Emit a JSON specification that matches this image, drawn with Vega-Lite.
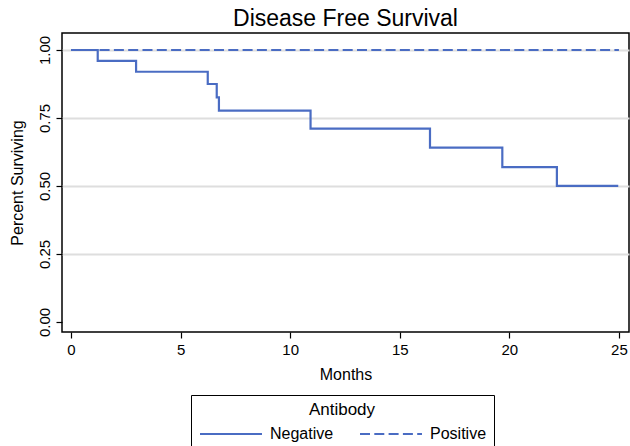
{
  "$schema": "https://vega.github.io/schema/vega-lite/v6.json",
  "autosize": "none",
  "width": 567,
  "height": 299,
  "padding": {"left": 62, "top": 33, "right": 1, "bottom": 114},
  "background": "white",
  "config": {
    "font": "Liberation Sans",
    "view": {"stroke": "#000", "strokeWidth": 1.5}
  },
  "title": {"text": "Disease Free Survival", "fontSize": 23, "fontWeight": "normal", "anchor": "middle", "offset": 2, "color": "#000"},
  "data": {"values": [
    {"antibody": "Negative", "months": 0, "surv": 1},
    {"antibody": "Negative", "months": 1.22, "surv": 0.96},
    {"antibody": "Negative", "months": 2.97, "surv": 0.92},
    {"antibody": "Negative", "months": 6.24, "surv": 0.875},
    {"antibody": "Negative", "months": 6.65, "surv": 0.826},
    {"antibody": "Negative", "months": 6.75, "surv": 0.777},
    {"antibody": "Negative", "months": 10.93, "surv": 0.711},
    {"antibody": "Negative", "months": 16.38, "surv": 0.641},
    {"antibody": "Negative", "months": 19.68, "surv": 0.569},
    {"antibody": "Negative", "months": 22.17, "surv": 0.5},
    {"antibody": "Negative", "months": 24.97, "surv": 0.5},
    {"antibody": "Positive", "months": 0, "surv": 1},
    {"antibody": "Positive", "months": 25, "surv": 1}
  ]},
  "mark": {"type": "line", "interpolate": "step-after", "strokeWidth": 2.2},
  "encoding": {
    "x": {"field": "months", "type": "quantitative",
      "scale": {"domain": [-0.41, 25.46], "nice": false, "zero": false},
      "axis": {"values": [0, 5, 10, 15, 20, 25], "title": "Months", "grid": false, "domain": false,
        "labelFontSize": 15, "titleFontSize": 16, "titleFontWeight": "normal", "labelColor": "#000", "titleColor": "#000",
        "tickColor": "#000", "tickSize": 6, "tickWidth": 1.2, "labelPadding": 4, "titlePadding": 9, "labelFlush": false}},
    "y": {"field": "surv", "type": "quantitative",
      "scale": {"domain": [-0.037, 1.0625], "nice": false, "zero": false},
      "axis": {"values": [0, 0.25, 0.5, 0.75, 1], "format": ".2f", "title": "Percent Surviving", "domain": false,
        "grid": true, "gridColor": {"condition": {"test": "datum.value === 0", "value": "transparent"}, "value": "#dedede"}, "gridWidth": 2,
        "labelAngle": -90, "labelAlign": "center", "labelBaseline": "bottom",
        "labelFontSize": 15, "titleFontSize": 16, "titleFontWeight": "normal", "labelColor": "#000", "titleColor": "#000",
        "tickColor": "#000", "tickSize": 6, "tickWidth": 1.2, "labelPadding": 4, "titlePadding": 12, "labelFlush": false}},
    "color": {"field": "antibody", "type": "nominal",
      "scale": {"domain": ["Negative", "Positive"], "range": ["#4a6cc3", "#4a6cc3"]},
      "legend": {"title": "Antibody", "orient": "none", "legendX": 129, "legendY": 362, "direction": "horizontal",
        "titleAnchor": "middle", "titleFontSize": 17, "titleFontWeight": "normal", "titleColor": "#000", "titlePadding": 7,
        "labelFontSize": 16, "labelColor": "#000", "labelOffset": 56, "columnPadding": 22,
        "symbolType": "M-1,0H9.33", "symbolSize": 144, "symbolStrokeWidth": 2,
        "strokeColor": "#000", "fillColor": "white", "padding": 7}},
    "strokeDash": {"field": "antibody", "type": "nominal",
      "scale": {"domain": ["Negative", "Positive"], "range": [[1, 0], [10, 4.3]]},
      "legend": {"title": "Antibody", "orient": "none", "legendX": 129, "legendY": 362, "direction": "horizontal",
        "titleAnchor": "middle", "titleFontSize": 17, "titleFontWeight": "normal", "titleColor": "#000", "titlePadding": 7,
        "labelFontSize": 16, "labelColor": "#000", "labelOffset": 56, "columnPadding": 22,
        "symbolType": "M-1,0H9.33", "symbolSize": 144, "symbolStrokeWidth": 2,
        "strokeColor": "#000", "fillColor": "white", "padding": 7}}
  }
}
